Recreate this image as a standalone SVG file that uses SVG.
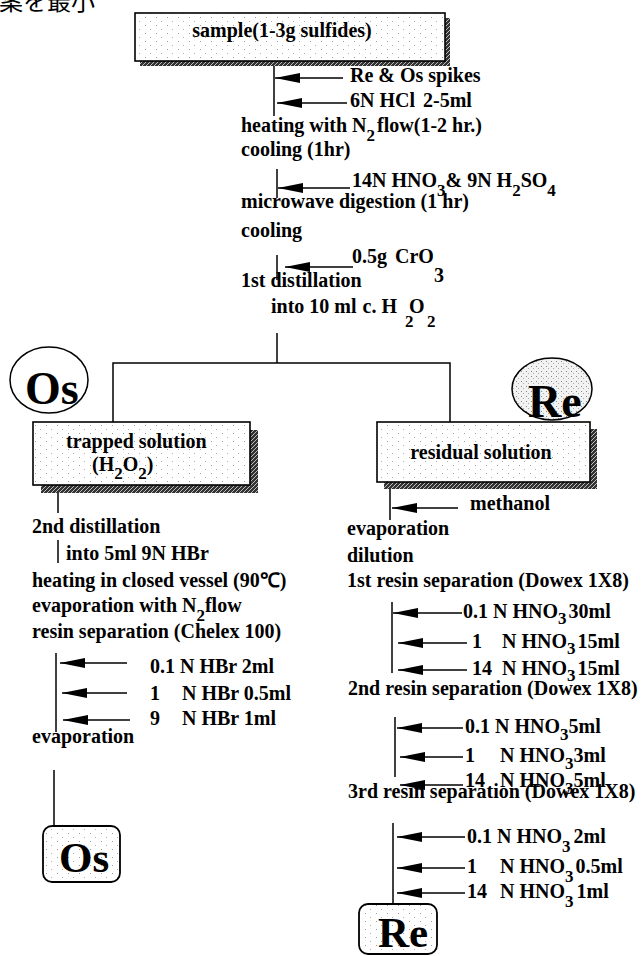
<svg xmlns="http://www.w3.org/2000/svg" width="643" height="956" viewBox="0 0 643 956">
<style>
.t{font-family:"Liberation Serif","Times New Roman",serif;font-weight:bold;font-size:20px;fill:#000}
.sub{font-size:17px}
.big{font-size:46px}
.mid{font-size:43px}
.ln{stroke:#000;stroke-width:1.5;fill:none}
.arr{stroke:#000;stroke-width:1.5;fill:none;marker-end:url(#ah)}
.box{fill:url(#dots);stroke:#000;stroke-width:1.6}
.shadow{fill:url(#hatch)}
.jp{font-family:"Noto Sans CJK JP","Noto Sans CJK SC",sans-serif;font-size:24px;fill:#000}
</style>
<defs>
<pattern id="dots" width="11" height="8" patternUnits="userSpaceOnUse">
<rect width="11" height="8" fill="#fff"/>
<rect x="2" y="1" width="1" height="1" fill="#9a9a9a"/>
<rect x="7" y="5" width="1" height="1" fill="#b0b0b0"/>
</pattern>
<pattern id="dots2" width="5" height="5" patternUnits="userSpaceOnUse">
<rect width="5" height="5" fill="#f2f2f2"/>
<rect x="1" y="1" width="1" height="1" fill="#888"/>
<rect x="3" y="3" width="1" height="1" fill="#aaa"/>
</pattern>
<pattern id="hatch" width="4" height="4" patternUnits="userSpaceOnUse">
<rect width="4" height="4" fill="#333"/>
<path d="M0,4 L4,0" stroke="#bbb" stroke-width="1"/>
</pattern>
<marker id="ah" markerUnits="userSpaceOnUse" markerWidth="26" markerHeight="12" refX="25" refY="6" orient="auto">
<path d="M0,1 L25,6 L0,11 Z" fill="#000"/>
</marker>
</defs>
<rect width="643" height="956" fill="#fff"/>

<text class="jp" x="-1" y="10">案を最小</text>

<g id="connectors">
<line class="ln" x1="274" y1="53" x2="274" y2="61" stroke-dasharray="1,2"/>
<line class="ln" x1="274" y1="61" x2="274" y2="116"/>
<line class="arr" x1="343" y1="78" x2="275" y2="78"/>
<line class="arr" x1="347" y1="103" x2="277" y2="103"/>
<line class="ln" x1="277" y1="169" x2="277" y2="198"/>
<line class="arr" x1="350" y1="188" x2="278" y2="188"/>
<line class="ln" x1="277" y1="255" x2="277" y2="280"/>
<line class="arr" x1="353" y1="267" x2="285" y2="267"/>
<line class="ln" x1="277" y1="333" x2="277" y2="363"/>
<polyline class="ln" points="113,422 113,363 450,363 450,422"/>
<line class="ln" x1="58" y1="490" x2="58" y2="513"/>
<line class="ln" x1="58" y1="540" x2="58" y2="563"/>
<line class="ln" x1="56" y1="653" x2="56" y2="732"/>
<line class="arr" x1="127" y1="663" x2="60" y2="663"/>
<line class="arr" x1="127" y1="693" x2="62" y2="693"/>
<line class="arr" x1="130" y1="720" x2="63" y2="720"/>
<line class="ln" x1="54" y1="770" x2="54" y2="826"/>
<line class="ln" x1="390" y1="482" x2="390" y2="520"/>
<line class="arr" x1="458" y1="508" x2="392" y2="508"/>
<line class="ln" x1="392" y1="602" x2="392" y2="673"/>
<line class="arr" x1="462" y1="613" x2="393" y2="613"/>
<line class="arr" x1="467" y1="643" x2="398" y2="643"/>
<line class="arr" x1="467" y1="670" x2="398" y2="670"/>
<line class="ln" x1="395" y1="717" x2="395" y2="777"/>
<line class="arr" x1="463" y1="728" x2="397" y2="728"/>
<line class="arr" x1="463" y1="757" x2="400" y2="757"/>
<line class="arr" x1="463" y1="785" x2="400" y2="785"/>
<line class="ln" x1="393" y1="823" x2="393" y2="904"/>
<line class="arr" x1="465" y1="837" x2="397" y2="837"/>
<line class="arr" x1="465" y1="868" x2="397" y2="868"/>
<line class="arr" x1="465" y1="893" x2="397" y2="893"/>
</g>

<g id="sample">
<rect class="shadow" x="140" y="18" width="310" height="48"/>
<rect class="box" x="135" y="13" width="310" height="48"/>
<text class="t" x="282" y="37" text-anchor="middle">sample(1-3g sulfides)</text>
</g>

<g id="steps-top">
<text class="t" x="350" y="82">Re &amp; Os spikes</text>
<text class="t" x="350" y="107">6N HCl<tspan dx="8">2-5ml</tspan></text>
<text class="t" x="241" y="132">heating with N<tspan class="sub" dy="9">2</tspan><tspan dy="-9" dx="2">flow(1-2 hr.)</tspan></text>
<text class="t" x="241" y="156">cooling (1hr)</text>
<text class="t" x="352" y="187">14N HNO<tspan class="sub" dy="9">3</tspan><tspan dy="-9">&amp; 9N H</tspan><tspan class="sub" dy="9">2</tspan><tspan dy="-9">SO</tspan><tspan class="sub" dy="9">4</tspan></text>
<text class="t" x="241" y="208">microwave digestion (1 hr)</text>
<text class="t" x="241" y="237">cooling</text>
<text class="t" x="352" y="263">0.5g<tspan dx="8">CrO</tspan></text>
<text class="t" x="434" y="282">3</text>
<text class="t" x="241" y="287">1st distillation</text>
<text class="t" x="271" y="313">into 10 ml<tspan dx="6">c. H</tspan><tspan class="sub" x="405" y="327">2</tspan><tspan x="409" y="313">O</tspan><tspan class="sub" x="427" y="327">2</tspan></text>
</g>

<g id="os-label">
<ellipse cx="49" cy="380" rx="39" ry="33" fill="#fff" stroke="#000" stroke-width="1.5"/>
<text class="t big" x="25" y="404">Os</text>
</g>

<g id="re-label">
<ellipse cx="552" cy="389" rx="40" ry="31" fill="url(#dots2)" stroke="#000" stroke-width="1.5"/>
<text class="t big" x="528" y="417">Re</text>
</g>

<g id="trapped">
<rect class="shadow" x="41" y="430" width="217" height="63"/>
<rect class="box" x="33" y="422" width="217" height="63"/>
<text class="t" x="66" y="448">trapped solution</text>
<text class="t" x="92" y="471">(H<tspan class="sub" dy="8">2</tspan><tspan dy="-8">O</tspan><tspan class="sub" dy="8">2</tspan><tspan dy="-8">)</tspan></text>
</g>

<g id="residual">
<rect class="shadow" x="384" y="429" width="213" height="60"/>
<rect class="box" x="377" y="422" width="213" height="60"/>
<text class="t" x="481" y="459" text-anchor="middle">residual solution</text>
</g>

<g id="steps-os">
<text class="t" x="32" y="533">2nd distillation</text>
<text class="t" x="66" y="560">into 5ml 9N HBr</text>
<text class="t" x="32" y="587">heating in closed vessel (90℃)</text>
<text class="t" x="32" y="612">evaporation with N<tspan class="sub" dy="9">2</tspan><tspan dy="-9">flow</tspan></text>
<text class="t" x="32" y="638">resin separation (Chelex 100)</text>
<text class="t" x="150" y="673">0.1 N HBr 2ml</text>
<text class="t" x="150" y="700">1</text>
<text class="t" x="182" y="700">N HBr 0.5ml</text>
<text class="t" x="150" y="725">9</text>
<text class="t" x="182" y="725">N HBr 1ml</text>
<text class="t" x="32" y="743">evaporation</text>
</g>

<g id="os-final">
<rect x="43" y="826" width="77" height="56" rx="9" fill="url(#dots)" stroke="#000" stroke-width="1.8"/>
<text class="t mid" x="59" y="872">Os</text>
</g>

<g id="steps-re">
<text class="t" x="470" y="510">methanol</text>
<text class="t" x="347" y="535">evaporation</text>
<text class="t" x="347" y="562">dilution</text>
<text class="t" x="347" y="587">1st resin separation (Dowex 1X8)</text>
<text class="t" x="463" y="618">0.1 N HNO<tspan class="sub" dy="6">3</tspan><tspan dy="-6" dx="2">30ml</tspan></text>
<text class="t" x="472" y="648">1</text>
<text class="t" x="502" y="648">N HNO<tspan class="sub" dy="6">3</tspan><tspan dy="-6" dx="2">15ml</tspan></text>
<text class="t" x="472" y="675">14</text>
<text class="t" x="502" y="675">N HNO<tspan class="sub" dy="6">3</tspan><tspan dy="-6" dx="2">15ml</tspan></text>
<text class="t" x="348" y="695">2nd resin separation (Dowex 1X8)</text>
<text class="t" x="465" y="733">0.1 N HNO<tspan class="sub" dy="7">3</tspan><tspan dy="-7">5ml</tspan></text>
<text class="t" x="465" y="762">1</text>
<text class="t" x="500" y="762">N HNO<tspan class="sub" dy="7">3</tspan><tspan dy="-7">3ml</tspan></text>
<text class="t" x="465" y="787">14</text>
<text class="t" x="500" y="787">N HNO<tspan class="sub" dy="7">3</tspan><tspan dy="-7">5ml</tspan></text>
<text class="t" x="348" y="798">3rd resin separation (Dowex 1X8)</text>
<text class="t" x="467" y="843">0.1 N HNO<tspan class="sub" dy="9">3</tspan><tspan dy="-9" dx="3">2ml</tspan></text>
<text class="t" x="467" y="873">1</text>
<text class="t" x="500" y="873">N HNO<tspan class="sub" dy="9">3</tspan><tspan dy="-9" dx="2">0.5ml</tspan></text>
<text class="t" x="467" y="898">14</text>
<text class="t" x="500" y="898">N HNO<tspan class="sub" dy="9">3</tspan><tspan dy="-9" dx="3">1ml</tspan></text>
</g>

<g id="re-final">
<rect x="359" y="904" width="78" height="50" rx="9" fill="url(#dots)" stroke="#000" stroke-width="1.8"/>
<text class="t mid" x="378" y="947">Re</text>
</g>
</svg>
